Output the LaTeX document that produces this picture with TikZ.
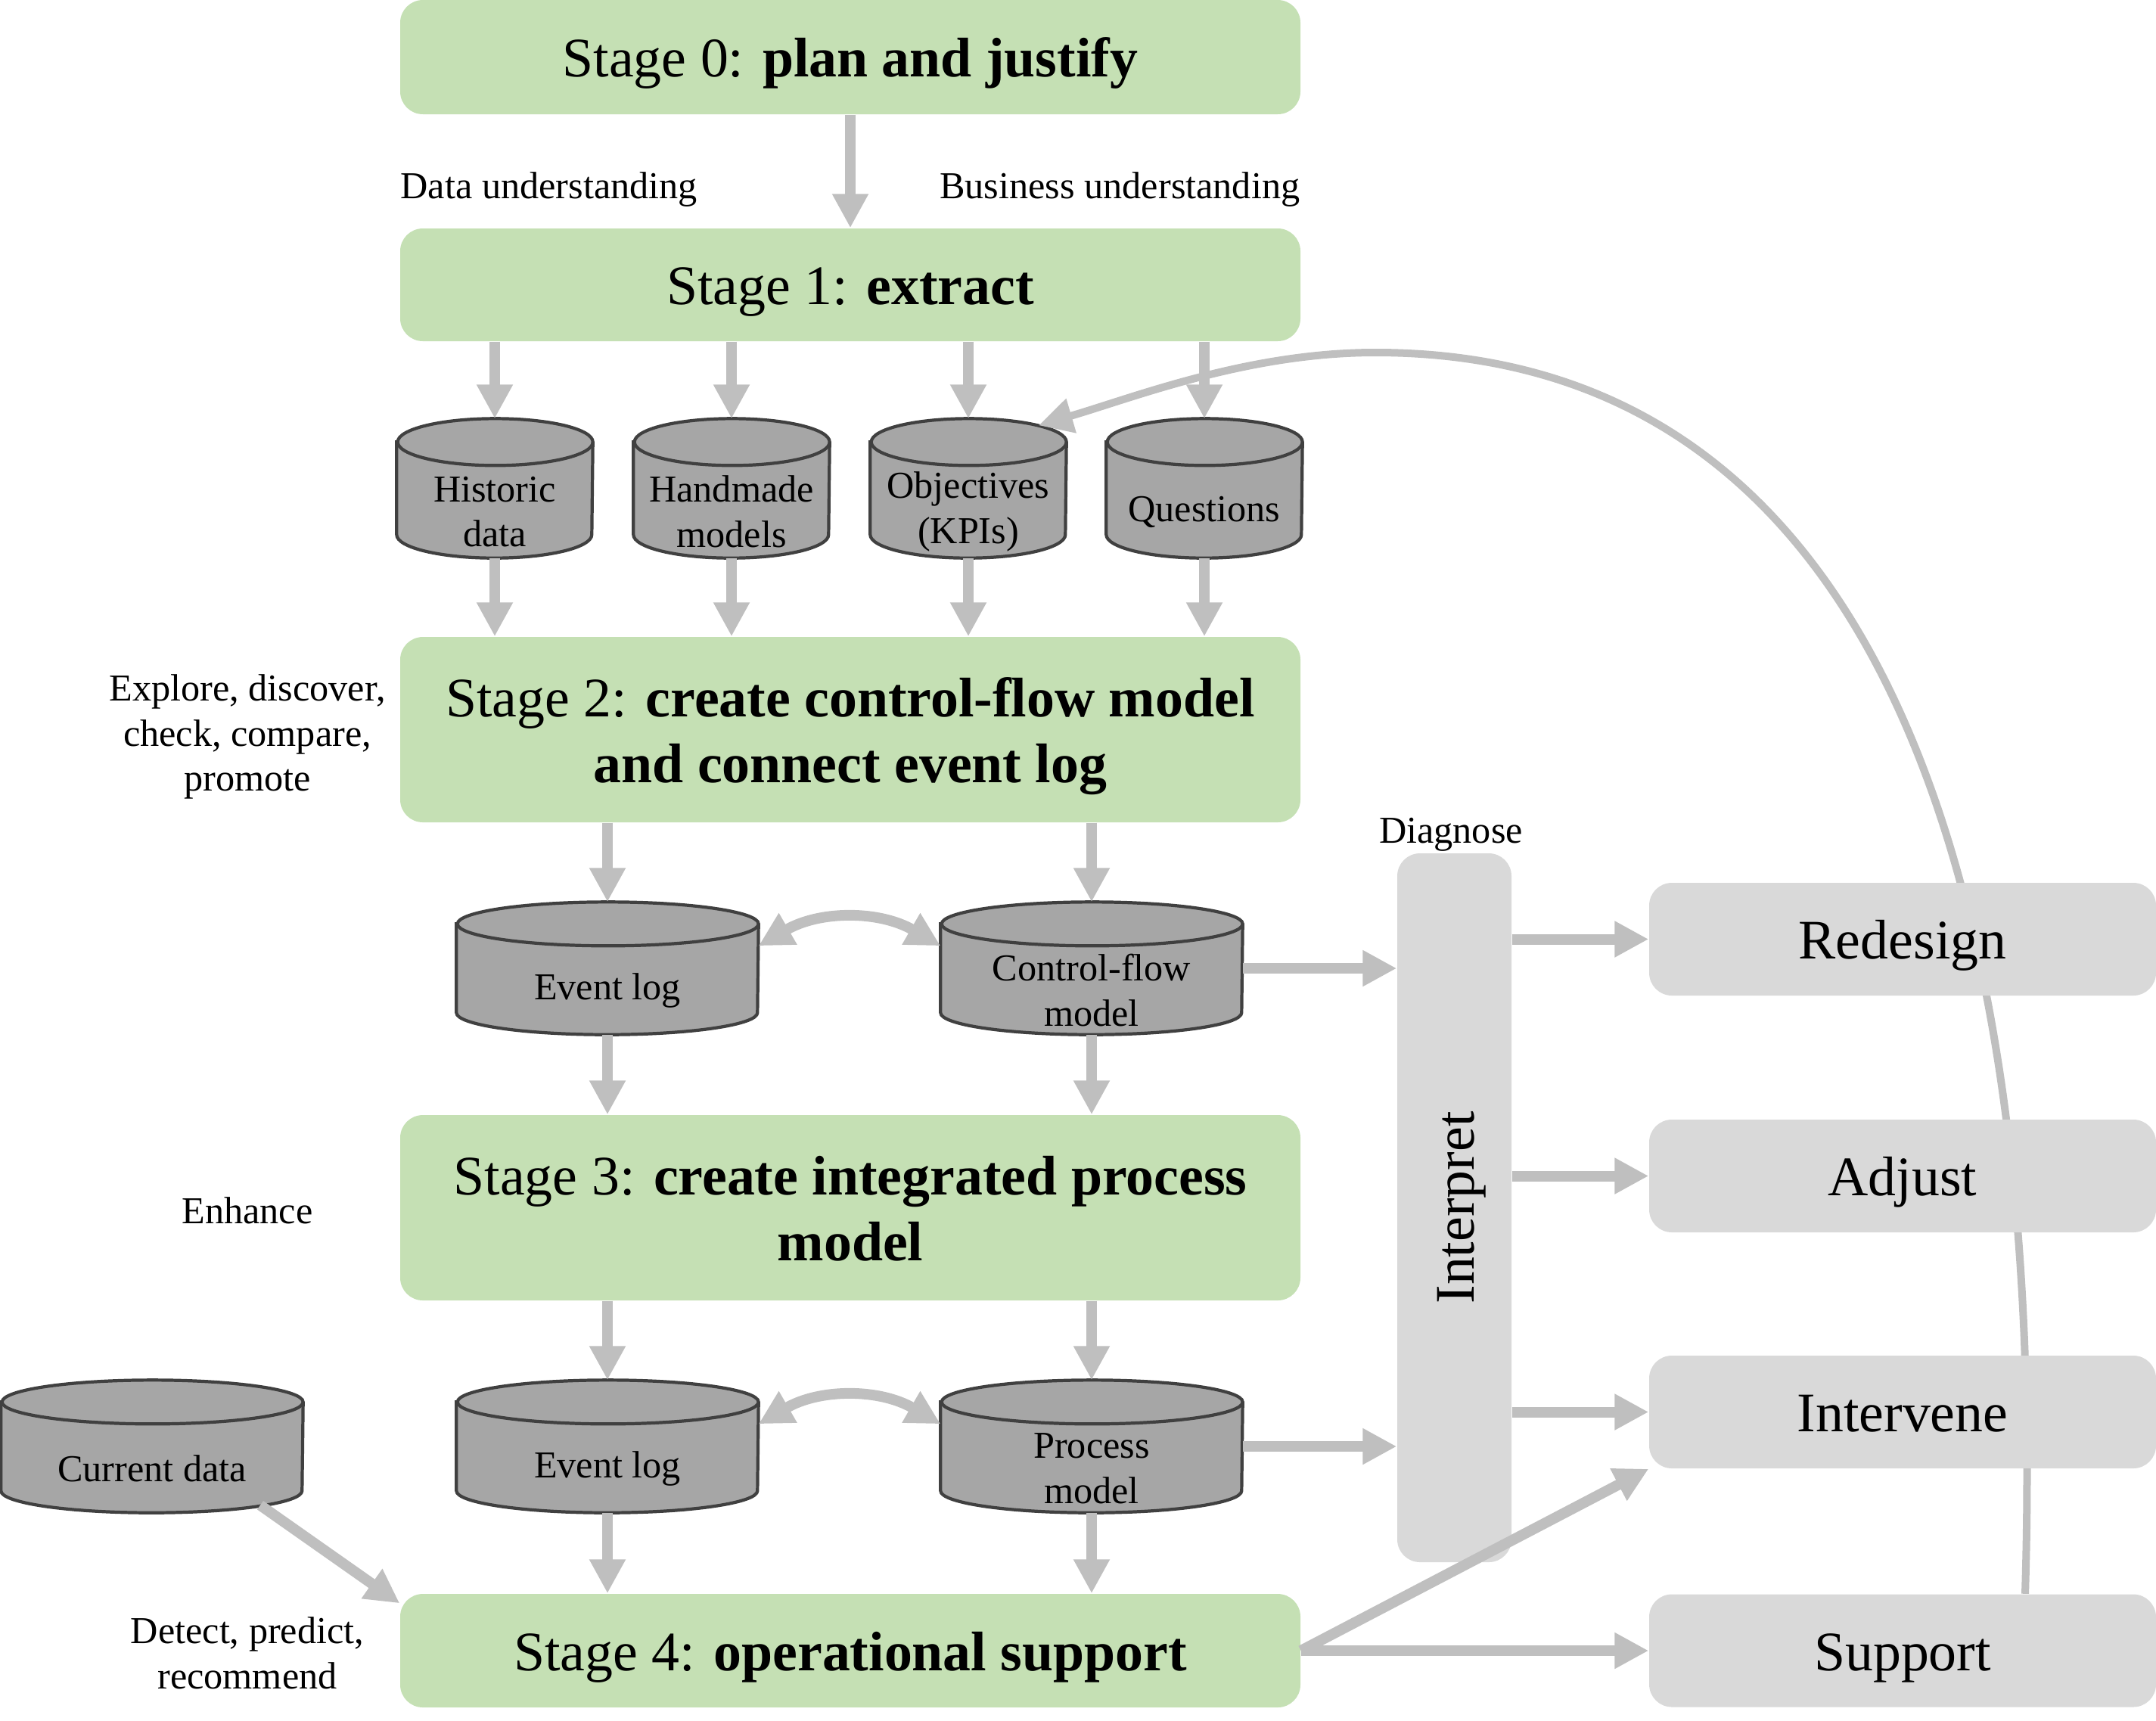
\documentclass[tikz,border=0pt]{standalone}
\usepackage{fontspec}
\setmainfont{Liberation Serif}
\usepackage{graphicx}
\usetikzlibrary{arrows.meta,backgrounds}

\definecolor{stagegreen}{HTML}{C5E0B4}
\definecolor{boxgray}{HTML}{D9D9D9}
\definecolor{arrowgray}{HTML}{BFBFBF}
\definecolor{dbgray}{HTML}{A6A6A6}
\definecolor{dbline}{HTML}{404040}

% struts so that big labels sit low in their boxes
\newcommand\topstrut{\rule{0pt}{20pt}}
\newcommand\botstrut{\rule[-5pt]{0pt}{5pt}}

% database drum round a body node: node, x radius, y radius
\newcommand\drawdb[3]{%
  \draw[dbshape] ([yshift=#3]#1.north west) -- ([yshift=#3]#1.south west)
    arc[start angle=180, end angle=360, x radius=#2, y radius=#3]
    -- ([yshift=#3]#1.north east)
    arc[start angle=0, end angle=180, x radius=#2, y radius=#3] -- cycle;
  \draw[dbshape, fill=none] ([yshift=#3]#1.north east)
    arc[start angle=0, end angle=-180, x radius=#2, y radius=#3];
}

\begin{document}
\begin{tikzpicture}[
  >={Triangle[length=0.45cm,width=0.45cm]},
  bigtext/.style={font=\fontsize{21}{24.75}\selectfont, execute at begin node=\topstrut, execute at end node=\botstrut},
  stage/.style={bigtext, fill=stagegreen, rounded corners=0.3cm, minimum width=11.9cm, align=center},
  outcome/.style={bigtext, fill=boxgray, rounded corners=0.3cm, minimum width=6.7cm, minimum height=1.49cm},
  db/.style={inner sep=0pt, minimum width=2.58cm, minimum height=1.21cm, align=center, font=\fontsize{14.3}{17}\selectfont},
  bigdb/.style={db, minimum width=3.98cm, minimum height=1.16cm},
  dbshape/.style={fill=dbgray, draw=dbline, line width=1.2pt},
  note/.style={align=center, inner xsep=0pt, font=\fontsize{14.3}{17}\selectfont},
  flow/.style={draw=arrowgray, line width=0.14cm, ->},
]
\useasboundingbox (0,0) rectangle (28.5,-22.74);

% Stages
\node[stage, minimum height=1.51cm] (s0) at (11.24,-0.755) {Stage 0: \textbf{plan and justify}};
\node[stage, minimum height=1.49cm] (s1) at (11.24,-3.765) {Stage 1: \textbf{extract}};
\node[stage, minimum height=2.45cm] (s2) at (11.24,-9.645) {\topstrut Stage 2: \textbf{create control-flow model}\\\textbf{and connect event log}};
\node[stage, minimum height=2.45cm] (s3) at (11.24,-15.965) {\topstrut Stage 3: \textbf{create integrated process}\\\textbf{model}};
\node[stage, minimum height=1.50cm] (s4) at (11.24,-21.82) {Stage 4: \textbf{operational support}};

% Data stores
\node[db] (h1) at (6.54,-6.765) {Historic\\data};
\node[db] (h2) at (9.67,-6.765) {Handmade\\models};
\node[db] (h3) at (12.80,-6.765) {Objectives\\(KPIs)};
\node[db] (h4) at (15.92,-6.765) {Questions};
\node[bigdb] (el1) at (8.03,-13.09) {Event log};
\node[bigdb] (cf) at (14.43,-13.09) {Control-flow\\model};
\node[bigdb] (cd) at (2.01,-19.41) {Current data};
\node[bigdb] (el2) at (8.03,-19.41) {Event log};
\node[bigdb] (pm) at (14.43,-19.41) {Process\\model};

% Interpret and outcomes
\node[fill=boxgray, rounded corners=0.3cm, minimum width=1.51cm, minimum height=9.37cm, font=\fontsize{21}{24.75}\selectfont] (ip) at (19.225,-15.965) {\rotatebox{90}{\topstrut Interpret\botstrut}};
\node[outcome] (rd) at (25.15,-12.415) {Redesign};
\node[outcome] (ad) at (25.15,-15.545) {Adjust};
\node[outcome] (iv) at (25.15,-18.665) {Intervene};
\node[outcome] (sup) at (25.15,-21.82) {Support};

% Side labels
\node[note, anchor=west] (du) at (5.29,-2.50) {Data understanding};
\node[note, anchor=east] (bu) at (17.19,-2.50) {Business understanding};
\node[note] (l2) at (3.27,-9.74) {Explore, discover,\\check, compare,\\promote};
\node[note] (l3) at (3.27,-16.00) {Enhance};
\node[note] (l4) at (3.27,-21.85) {Detect, predict,\\recommend};
\node[note] (dg) at (19.18,-11.03) {Diagnose};

% Drums and feedback curve
\begin{scope}[on background layer]
  \foreach \n in {h1,h2,h3,h4} \drawdb{\n}{1.29cm}{0.31cm};
  \foreach \n in {el1,cf,cd,el2,pm} \drawdb{\n}{1.99cm}{0.29cm};
  \coordinate (peak) at (18.18,-4.66);
  \draw[flow, line width=0.1cm] ([xshift=1.62cm]sup.north) .. controls (27.05,-12.0) and (25.0,-4.66) .. (peak)
    .. controls (16.5,-4.66) and (15.0,-5.25) .. ([shift={(0.93,0.53)}]h3.north);
\end{scope}

% Arrows
\draw[flow] (s0) -- (s1);
\foreach \n in {h1,h2,h3,h4} {
  \draw[flow] (s1.south -| \n) -- ([yshift=6.2mm]\n.north);
  \draw[flow] (\n.south) -- (\n.south |- s2.north);
}
\foreach \n in {el1,cf} {
  \draw[flow] (s2.south -| \n) -- ([yshift=5.8mm]\n.north);
  \draw[flow] (\n.south) -- (\n.south |- s3.north);
}
\foreach \n in {el2,pm} {
  \draw[flow] (s3.south -| \n) -- ([yshift=5.8mm]\n.north);
  \draw[flow] (\n.south) -- (\n.south |- s4.north);
}
\draw[flow, <->] (el1.north east) to[bend left=30] (cf.north west);
\draw[flow, <->] (el2.north east) to[bend left=30] (pm.north west);
\draw[flow] ([yshift=2.9mm]cf.east) -- ([yshift=2.9mm]cf.east -| ip.west);
\draw[flow] ([yshift=2.9mm]pm.east) -- ([yshift=2.9mm]pm.east -| ip.west);
\foreach \n in {rd,ad,iv} \draw[flow] (ip.east |- \n) -- (\n.west);
\draw[flow] (s4.east) -- (iv.south west);
\draw[flow] (s4.east) -- (sup.west);
\draw[flow] ([shift={(1.43,0.1)}]cd.south) -- ([yshift=-1.3mm]s4.north west);
\end{tikzpicture}
\end{document}
